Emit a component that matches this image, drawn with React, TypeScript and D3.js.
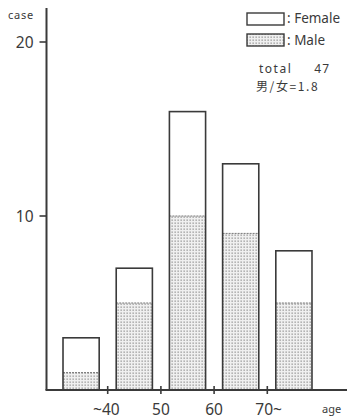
import * as d3 from 'd3';
import React from 'react';

// age groups (bars) and the boundary tick labels between them
const groups = ['-40', '40s', '50s', '60s', '70-'];
const tickLabels = ['~40', '50', '60', '70~'];
const maleCases = [1, 5, 10, 9, 5];
const femaleCases = [2, 2, 6, 4, 3];
const yTicks = [10, 20];

const W = 347;
const H = 419;
const axisX = 46.5;
const baseY = 390;
const ink = '#3a3a3a';
const font = '"Noto Sans", "DejaVu Sans", sans-serif';

export default function App() {
  const y = d3.scaleLinear().domain([0, 20]).range([baseY, 42]);
  const x = d3.scaleBand<string>()
    .domain(groups)
    .range([54.5, 320.5])
    .paddingInner(0.32)
    .paddingOuter(0.16);
  const bw = x.bandwidth();
  const gap = x.step() * 0.16;

  const stacked = groups.map((g, i) => ({
    g,
    male: maleCases[i],
    total: maleCases[i] + femaleCases[i],
  }));

  const boundaries = groups.slice(1).map((g) => (x(g) as number) - gap);
  const total = d3.sum(stacked, (d) => d.total);
  const ratio = d3.sum(maleCases) / d3.sum(femaleCases);

  return (
    <div style={{ position: 'fixed', left: 0, top: 0 }}>
      <svg width={W} height={H} style={{ display: 'block', background: '#fff' }}>
        <defs>
          <pattern id="dots" width={3} height={3} patternUnits="userSpaceOnUse">
            <rect width={3} height={3} fill="#f0f0f0" />
            <rect x={0.5} y={0.5} width={1.3} height={1.3} fill="#939393" />
          </pattern>
        </defs>

        {/* bars */}
        {stacked.map((d) => {
          const x0 = x(d.g) as number;
          return (
            <g key={d.g}>
              <rect x={x0} y={y(d.male)} width={bw} height={baseY - y(d.male)} fill="url(#dots)" />
              <line x1={x0} x2={x0 + bw} y1={y(d.male)} y2={y(d.male)} stroke="#777" strokeWidth={1} strokeDasharray="2,1" />
              <rect x={x0} y={y(d.total)} width={bw} height={baseY - y(d.total)} fill="none" stroke={ink} strokeWidth={1.6} />
            </g>
          );
        })}

        {/* y axis */}
        <line x1={axisX} x2={axisX} y1={8} y2={baseY} stroke={ink} strokeWidth={2} />
        {yTicks.map((t) => (
          <g key={t}>
            <line x1={axisX - 7} x2={axisX} y1={y(t)} y2={y(t)} stroke={ink} strokeWidth={1.6} />
            <text x={axisX - 13} y={y(t) + 5.5} textAnchor="end" fontSize={15.5} fill={ink} fontFamily={font}>{t}</text>
          </g>
        ))}
        <text x={8} y={19} fontSize={11} letterSpacing={0.8} fill={ink} fontFamily={font}>case</text>

        {/* x axis */}
        <line x1={axisX - 1} x2={W} y1={baseY} y2={baseY} stroke={ink} strokeWidth={2} />
        {boundaries.map((bx, i) => {
          const lab = tickLabels[i];
          let anchor = 'middle';
          let tx = bx;
          if (lab.startsWith('~')) { anchor = 'end'; tx = bx + 12; }
          if (lab.endsWith('~')) { anchor = 'start'; tx = bx - 12; }
          return (
            <g key={lab}>
              <line x1={bx} x2={bx} y1={baseY - 4} y2={baseY + 4} stroke={ink} strokeWidth={1.6} />
              <text x={tx} y={415} textAnchor={anchor} fontSize={15.5} fill={ink} fontFamily={font}>{lab}</text>
            </g>
          );
        })}
        <text x={322} y={413} fontSize={11} fill={ink} fontFamily={font}>age</text>

        {/* legend */}
        <rect x={247} y={13} width={37} height={12} fill="#fff" stroke={ink} strokeWidth={1.4} />
        <text x={287} y={23} fontSize={13.5} fill={ink} fontFamily={font}>: Female</text>
        <rect x={247} y={34} width={37} height={12} fill="url(#dots)" stroke={ink} strokeWidth={1.4} />
        <text x={287} y={45} fontSize={13.5} fill={ink} fontFamily={font}>: Male</text>
        <text x={259} y={73} fontSize={12} letterSpacing={1.5} fill={ink} fontFamily={font}>total</text>
        <text x={330} y={73} textAnchor="end" fontSize={12} letterSpacing={1} fill={ink} fontFamily={font}>{total}</text>
        <text x={256} y={91} fontSize={12} letterSpacing={1.6} fill={ink} fontFamily={'"Noto Sans CJK JP", sans-serif'}>男/女={ratio.toFixed(1)}</text>
      </svg>
    </div>
  );
}
